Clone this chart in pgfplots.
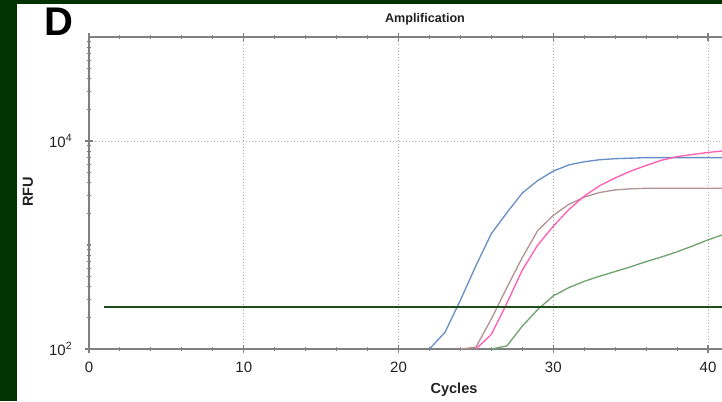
\documentclass[border=0pt]{standalone}
\usepackage{pgfplots}
\pgfplotsset{compat=1.18}
\usepackage{fontspec}
\setmainfont{Liberation Sans}
\definecolor{frameg}{HTML}{013301}
\definecolor{cblue}{HTML}{6A8FC6}
\definecolor{cpink}{HTML}{FF5FB4}
\definecolor{cbrown}{HTML}{B49494}
\definecolor{cgreen}{HTML}{72A472}
\definecolor{thr}{HTML}{1E4D1E}
\definecolor{axg}{HTML}{808080}
\definecolor{txt}{HTML}{222222}
\begin{document}
\begin{tikzpicture}
\useasboundingbox (0pt,0pt) rectangle (541.5pt,300.75pt);
\fill[white] (0pt,0pt) rectangle (541.5pt,300.75pt);
\begin{scope}
\clip (12.75pt,0pt) rectangle (541.5pt,297.75pt);
\begin{axis}[
  at={(66.75pt,39pt)}, anchor=south west,
  scale only axis, width=510.7pt, height=234pt,
  xmin=0, xmax=44, ymode=log, ymin=100, ymax=1e5,
  xtick={0,10,20,30,40}, xticklabels={0,10,20,30,40}, minor x tick num=4,
  ytick={100,10000}, yticklabels={10\textsuperscript{2},10\textsuperscript{4}},
  minor ytick={200,300,400,500,600,700,800,900,1000,2000,3000,4000,5000,6000,7000,8000,9000,20000,30000,40000,50000,60000,70000,80000,90000},
  tick align=center,
  major tick length=6pt, minor tick length=3.5pt,
  every tick/.style={axg, line width=0.8pt},
  axis line style={axg, line width=1.1pt},
  grid=major,
  major grid style={axg!70, dotted, line width=0.6pt},
  tick label style={font=\fontsize{11.25}{13}\selectfont, text=txt},
  xticklabel style={yshift=-3.5pt},
  yticklabel style={xshift=-6pt},
  clip=true,
]
\addplot[cgreen, line width=1pt] coordinates {(26,100)(27,107)(28,166)(29,240)(30,324)(31,389)(32,447)(33,501)(34,556)(35,617)(36,692)(37,767)(38,861)(39,977)(40,1122)(41,1259)(42,1400)};
\addplot[cbrown, line width=1pt] coordinates {(24,100)(25,104)(26,195)(27,389)(28,759)(29,1380)(30,1928)(31,2455)(32,2884)(33,3199)(34,3388)(35,3467)(36,3508)(37,3508)(38,3508)(39,3508)(40,3508)(41,3508)(42,3508)};
\addplot[cblue, line width=1pt] coordinates {(22,100)(23,144.5)(24,295)(25,631)(26,1288)(27,2042)(28,3162)(29,4169)(30,5129)(31,5888)(32,6310)(33,6607)(34,6761)(35,6839)(36,6918)(37,6918)(38,6918)(39,6918)(40,6918)(41,6918)(42,6918)};
\addplot[cpink, line width=1pt] coordinates {(25,100)(26,138)(27,275)(28,575)(29,1000)(30,1514)(31,2188)(32,2951)(33,3715)(34,4416)(35,5129)(36,5821)(37,6531)(38,7080)(39,7413)(40,7762)(41,8035)(42,8200)};
\addplot[thr, line width=1.4pt] coordinates {(1,254)(44,254)};
\end{axis}
\end{scope}
\fill[frameg] (0pt,0pt) rectangle (12.75pt,300.75pt);
\fill[frameg] (0pt,297.75pt) rectangle (541.5pt,300.75pt);
\node[font=\fontsize{30}{30}\selectfont\bfseries] at (43.875pt,284.25pt) {D};
\node[font=\fontsize{9.45}{11}\selectfont\bfseries, text=txt] at (318.75pt,286.5pt) {Amplification};
\node[font=\fontsize{10.9}{12}\selectfont\bfseries, text=txt] at (340.5pt,8.25pt) {Cycles};
\node[font=\fontsize{10.9}{12}\selectfont\bfseries, text=txt, rotate=90] at (21pt,156.75pt) {RFU};
\end{tikzpicture}
\end{document}
